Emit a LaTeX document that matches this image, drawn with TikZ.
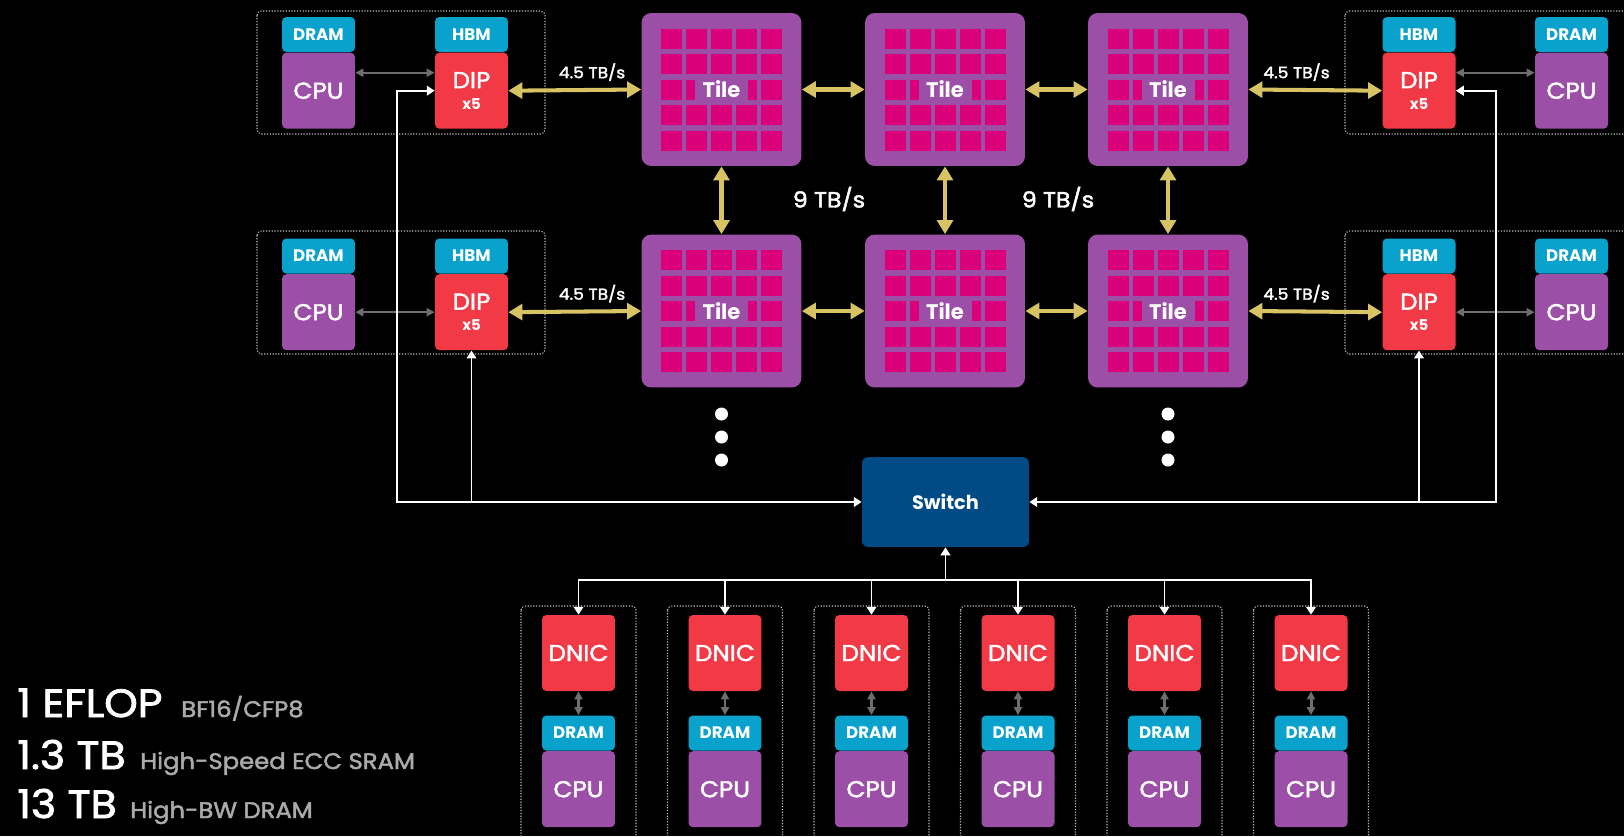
\documentclass[tikz,border=0pt]{standalone}
\usepackage{fontspec}
\setmainfont{Poppins}[UprightFeatures={FakeBold=2, FakeStretch=1.08}]
\usetikzlibrary{arrows.meta, positioning, calc}

\definecolor{cpupurple}{RGB}{155,79,166}
\definecolor{tilepink}{RGB}{217,0,122}
\definecolor{dipred}{RGB}{242,57,70}
\definecolor{memblue}{RGB}{8,162,204}
\definecolor{switchblue}{RGB}{0,75,133}
\definecolor{linkyellow}{RGB}{215,195,100}
\definecolor{linkgray}{RGB}{110,110,110}
\definecolor{specgray}{RGB}{170,170,170}
\definecolor{framegray}{RGB}{185,185,185}

\begin{document}
\begin{tikzpicture}[x=0.02cm, y=-0.02cm,
    every node/.style={text=white, inner sep=0pt},
    mem/.style={fill=memblue, rounded corners=2.5pt, minimum width=1.46cm, minimum height=0.70cm, font=\bfseries\fontsize{9.5}{9.5}\selectfont},
    cpu/.style={fill=cpupurple, rounded corners=2.5pt, minimum width=1.46cm, minimum height=1.52cm, font=\fontsize{13}{13}\selectfont},
    dip/.style={fill=dipred, rounded corners=2.5pt, minimum width=1.46cm, minimum height=1.52cm, align=center, font=\fontsize{13}{13}\selectfont},
    nic/.style={dip},
    tile/.style={fill=cpupurple, rounded corners=5.5pt, minimum width=3.2cm, minimum height=3.06cm},
    tilelabel/.style={fill=cpupurple, minimum width=1.06cm, minimum height=0.42cm, font=\bfseries\fontsize{12}{12}\selectfont},
    switchbox/.style={fill=switchblue, rounded corners=3.5pt, minimum width=3.34cm, minimum height=1.8cm, font=\bfseries\fontsize{11}{11}\selectfont},
    frame/.style={draw=framegray, line width=0.6pt, dash pattern=on 0.7pt off 0.9pt, rounded corners=2.5pt},
    ylink/.style={draw=linkyellow, line width=2.3pt, {Triangle[length=8pt, width=9pt]}-{Triangle[length=8pt, width=9pt]}},
    glink/.style={draw=linkgray, line width=1.1pt, {Triangle[length=4.6pt, width=4.6pt]}-{Triangle[length=4.6pt, width=4.6pt]}},
    wlink/.style={draw=white, line width=1.1pt},
    speed/.style={font=\fontsize{9}{9}\selectfont},
    bigspec/.style={anchor=base west, font=\fontsize{22.5}{22.5}\selectfont},
    smallspec/.style={anchor=base west, text=specgray, font=\fontsize{12.8}{12.8}\selectfont}
  ]
  \useasboundingbox (0,0) rectangle (1624,836);
  \clip (0,0) rectangle (1624,836);
  \fill[black] (0,0) rectangle (1624,836);

  % tiles
  \foreach \n/\x/\y in {t1/721.5/89.5, t2/945/89.5, t3/1168/89.5, t4/721.5/311, t5/945/311, t6/1168/311} {
    \node[tile] (\n) at (\x,\y) {};
    \foreach \i in {-2,...,2}
      \foreach \j in {-2,...,2}
        \fill[tilepink] ($(\n)+(\i*25-10.5,\j*25.5-10)$) rectangle ++(21,20);
    \node[tilelabel] (\n-lbl) at (\n) {Tile};
  }

  % host frames
  \draw[frame] (257,11) rectangle (545,134);
  \draw[frame] (257,231) rectangle (545,354);
  \draw[frame] (1345,11) rectangle (1660,134);
  \draw[frame] (1345,231) rectangle (1660,354);

  % hosts
  \foreach \h/\cx/\dx/\y in {tl/318.5/471.5/34.5, bl/318.5/471.5/256, tr/1571.5/1419/34.5, br/1571.5/1419/256} {
    \node[mem] (dram-\h) at (\cx,\y) {DRAM};
    \node[cpu, below=0pt of dram-\h] (cpu-\h) {CPU};
    \node[mem] (hbm-\h) at (\dx,\y) {HBM};
    \node[dip, below=0pt of hbm-\h] (dip-\h) {DIP\\[-1pt]{\bfseries\fontsize{8.5}{8.5}\selectfont x5}};
  }

  \draw[glink] ([yshift=0.36cm]cpu-tl.east) -- ([yshift=0.36cm]dip-tl.west);
  \draw[glink] (cpu-bl) -- (dip-bl);
  \draw[glink] ([yshift=0.36cm]dip-tr.east) -- ([yshift=0.36cm]cpu-tr.west);
  \draw[glink] (dip-br) -- (cpu-br);

  % tile links
  \draw[ylink] (dip-tl.east) -- node[speed, pos=0.63, above=4pt] (bw-tl) {4.5 TB/s} (t1.west);
  \draw[ylink] (dip-bl.east) -- node[speed, pos=0.63, above=4pt] (bw-bl) {4.5 TB/s} (t4.west);
  \draw[ylink] (t3.east) -- node[speed, pos=0.36, above=4pt] (bw-tr) {4.5 TB/s} (dip-tr.west);
  \draw[ylink] (t6.east) -- node[speed, pos=0.36, above=4pt] (bw-br) {4.5 TB/s} (dip-br.west);
  \draw[ylink] (t1.east) -- (t2.west);
  \draw[ylink] (t2.east) -- (t3.west);
  \draw[ylink] (t4.east) -- (t5.west);
  \draw[ylink] (t5.east) -- (t6.west);
  \draw[ylink] (t1.south) -- (t4.north);
  \draw[ylink] (t2.south) -- (t5.north);
  \draw[ylink] (t3.south) -- (t6.north);
  \node[font=\fontsize{12.5}{12.5}\selectfont] (bw-v1) at (829,199) {9 TB/s};
  \node[font=\fontsize{12.5}{12.5}\selectfont] (bw-v2) at (1058,199) {9 TB/s};

  % more rows
  \foreach \x in {721.5, 1168}
    \foreach \y in {414, 437, 460}
      \fill[white] (\x,\y) circle[radius=0.13cm];

  % switch
  \node[switchbox] (sw) at (945.5,502) {Switch};
  \coordinate (lturn) at (397,502);
  \coordinate (rturn) at (1496,502);
  \draw[wlink, {Triangle[length=4.5pt, width=5.5pt]}-{Triangle[length=4.5pt, width=5.5pt]}] (dip-tl.west) -| (lturn) -- (sw.west);
  \draw[wlink, -{Triangle[length=4.5pt, width=5.5pt]}] (dip-bl.south |- sw.west) -- (dip-bl.south);
  \draw[wlink, {Triangle[length=4.5pt, width=5.5pt]}-{Triangle[length=4.5pt, width=5.5pt]}] (dip-tr.east) -| (rturn) -- (sw.east);
  \draw[wlink, -{Triangle[length=4.5pt, width=5.5pt]}] (dip-br.south |- sw.east) -- (dip-br.south);

  % interface hosts
  \coordinate (bus) at (945.5,580);
  \draw[wlink, -{Triangle[length=4.5pt, width=5.5pt]}] (bus) -- (sw.south);
  \foreach \i in {1,...,6} {
    \pgfmathsetmacro\cx{578.5+146.5*(\i-1)}
    \draw[frame] (\cx-57.5,606) rectangle (\cx+57.5,860);
    \node[nic] (dnic\i) at (\cx,653) {DNIC};
    \node[mem] (ndram\i) at (\cx,733) {DRAM};
    \node[cpu, below=0pt of ndram\i] (ncpu\i) {CPU};
    \draw[glink, line width=1.7pt] (dnic\i) -- (ndram\i);
    \draw[wlink, -{Triangle[length=4.5pt, width=5.5pt]}] (bus) -| (dnic\i.north);
  }

  % specs
  \node[bigspec] (spec1) at (17,717) {1 EFLOP};
  \node[smallspec] (spec1-note) at (181,717) {BF16/CFP8};
  \node[bigspec] (spec2) at (17,769) {1.3 TB};
  \node[smallspec] (spec2-note) at (140,769) {High-Speed ECC SRAM};
  \node[bigspec] (spec3) at (17,818) {13 TB};
  \node[smallspec] (spec3-note) at (130,818) {High-BW DRAM};
\end{tikzpicture}
\end{document}
